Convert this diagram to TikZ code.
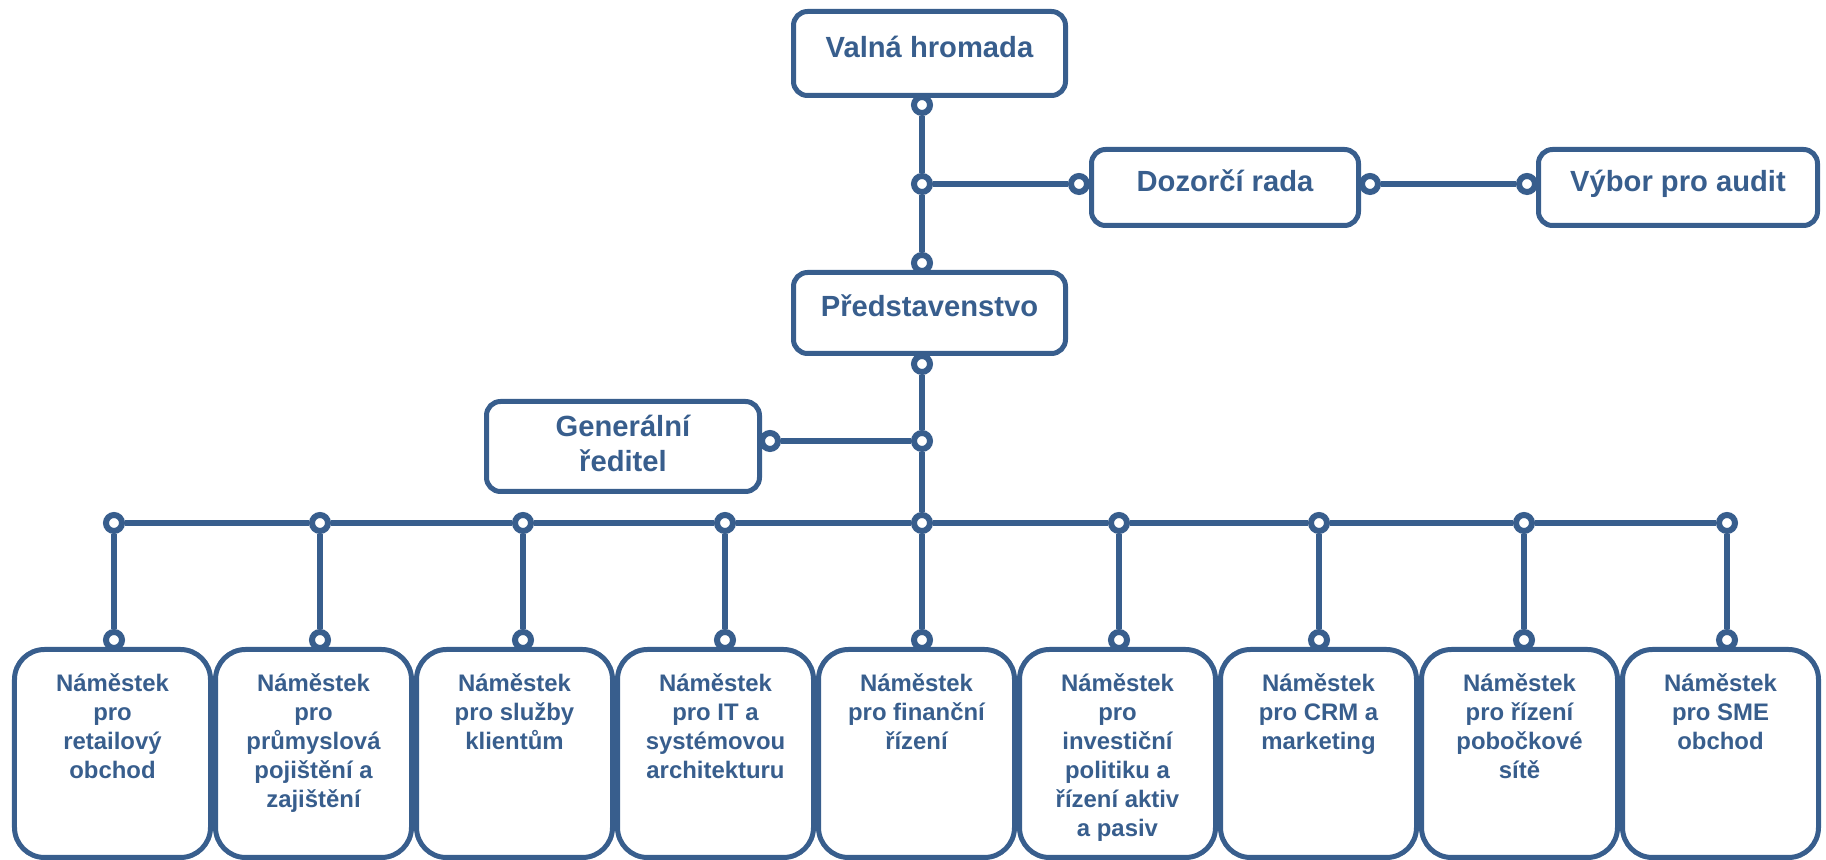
\documentclass[tikz,border=0pt]{standalone}
\usepackage{fontspec}
\setmainfont{Liberation Sans}
\definecolor{orgblue}{RGB}{56,94,141}
\newcommand\dtext[1]{\parbox[c][1.6cm][t]{1.9cm}{\centering #1}}

\begin{document}
\begin{tikzpicture}[
    unit/.style={draw=orgblue, line width=0.05cm, rounded corners=0.14cm, text=orgblue, align=center, inner sep=0pt, font=\bfseries\fontsize{8.3}{10}\selectfont},
    head/.style={unit, text height=6pt, text depth=4pt},
    deputy/.style={unit, rounded corners=0.3cm, minimum width=1.96cm, minimum height=2.08cm, font=\bfseries\fontsize{6.8}{8.25}\selectfont},
    dot/.style={circle, draw=orgblue, fill=white, line width=0.06cm, inner sep=0pt, minimum size=0.16cm},
    link/.style={draw=orgblue, line width=0.065cm}
]
    \useasboundingbox (0,0) rectangle (18.26,8.6);

    % top of the tree
    \node[head, minimum width=2.72cm, minimum height=0.84cm] (valna) at (9.295,8.065) {Valná hromada};
    \node[head, minimum width=2.72cm, minimum height=0.81cm] (board) at (9.295,5.47) {Představenstvo};
    \node[head, minimum width=2.67cm, minimum height=0.76cm] (council) at (12.25,6.725) {Dozorčí rada};
    \node[head, minimum width=2.79cm, minimum height=0.76cm] (audit) at (16.78,6.725) {Výbor pro audit};
    \node[unit, minimum width=2.73cm, minimum height=0.90cm, text depth=2pt] (ceo) at (6.23,4.135) {Generální\\ředitel};

    % deputies
    \node[deputy] (dep1) at (1.125,1.065) {\dtext{Náměstek\\pro\\retailový\\obchod}};
    \node[deputy] (dep2) at (3.135,1.065) {\dtext{Náměstek\\pro\\průmyslová\\pojištění a\\zajištění}};
    \node[deputy] (dep3) at (5.145,1.065) {\dtext{Náměstek\\pro služby\\klientům}};
    \node[deputy] (dep4) at (7.155,1.065) {\dtext{Náměstek\\pro IT a\\systémovou\\architekturu}};
    \node[deputy] (dep5) at (9.165,1.065) {\dtext{Náměstek\\pro finanční\\řízení}};
    \node[deputy] (dep6) at (11.175,1.065) {\dtext{Náměstek\\pro\\investiční\\politiku a\\řízení aktiv\\a pasiv}};
    \node[deputy] (dep7) at (13.185,1.065) {\dtext{Náměstek\\pro CRM a\\marketing}};
    \node[deputy] (dep8) at (15.195,1.065) {\dtext{Náměstek\\pro řízení\\pobočkové\\sítě}};
    \node[deputy] (dep9) at (17.205,1.065) {\dtext{Náměstek\\pro SME\\obchod}};

    % joints
    \node[dot] (dvalna) at (9.22,7.55) {};
    \node[dot] (jcouncil) at (9.22,6.76) {};
    \node[dot] (dboardtop) at (9.22,5.97) {};
    \node[dot] (dboardbot) at (9.22,4.96) {};
    \node[dot] (jceo) at (9.22,4.19) {};
    \node[dot] (dcouncilL) at (10.79,6.76) {};
    \node[dot] (dcouncilR) at (13.70,6.76) {};
    \node[dot] (daudit) at (15.27,6.76) {};
    \node[dot] (dceo) at (7.70,4.19) {};

    \node[dot] (bus1) at (1.14,3.37) {};
    \node[dot] (bus2) at (3.20,3.37) {};
    \node[dot] (bus3) at (5.23,3.37) {};
    \node[dot] (bus4) at (7.25,3.37) {};
    \node[dot] (bus5) at (9.22,3.37) {};
    \node[dot] (bus6) at (11.19,3.37) {};
    \node[dot] (bus7) at (13.19,3.37) {};
    \node[dot] (bus8) at (15.24,3.37) {};
    \node[dot] (bus9) at (17.27,3.37) {};

    \node[dot] (top1) at (1.14,2.20) {};
    \node[dot] (top2) at (3.20,2.20) {};
    \node[dot] (top3) at (5.23,2.20) {};
    \node[dot] (top4) at (7.25,2.20) {};
    \node[dot] (top5) at (9.22,2.20) {};
    \node[dot] (top6) at (11.19,2.20) {};
    \node[dot] (top7) at (13.19,2.20) {};
    \node[dot] (top8) at (15.24,2.20) {};
    \node[dot] (top9) at (17.27,2.20) {};

    % lines
    \draw[link] (dvalna) -- (jcouncil) -- (dboardtop);
    \draw[link] (jcouncil) -- (dcouncilL);
    \draw[link] (dcouncilR) -- (daudit);
    \draw[link] (dboardbot) -- (jceo) -- (bus5);
    \draw[link] (jceo) -- (dceo);
    \draw[link] (bus1) -- (bus2) -- (bus3) -- (bus4) -- (bus5) -- (bus6) -- (bus7) -- (bus8) -- (bus9);
    \draw[link] (bus1) -- (top1);
    \draw[link] (bus2) -- (top2);
    \draw[link] (bus3) -- (top3);
    \draw[link] (bus4) -- (top4);
    \draw[link] (bus5) -- (top5);
    \draw[link] (bus6) -- (top6);
    \draw[link] (bus7) -- (top7);
    \draw[link] (bus8) -- (top8);
    \draw[link] (bus9) -- (top9);
\end{tikzpicture}
\end{document}
